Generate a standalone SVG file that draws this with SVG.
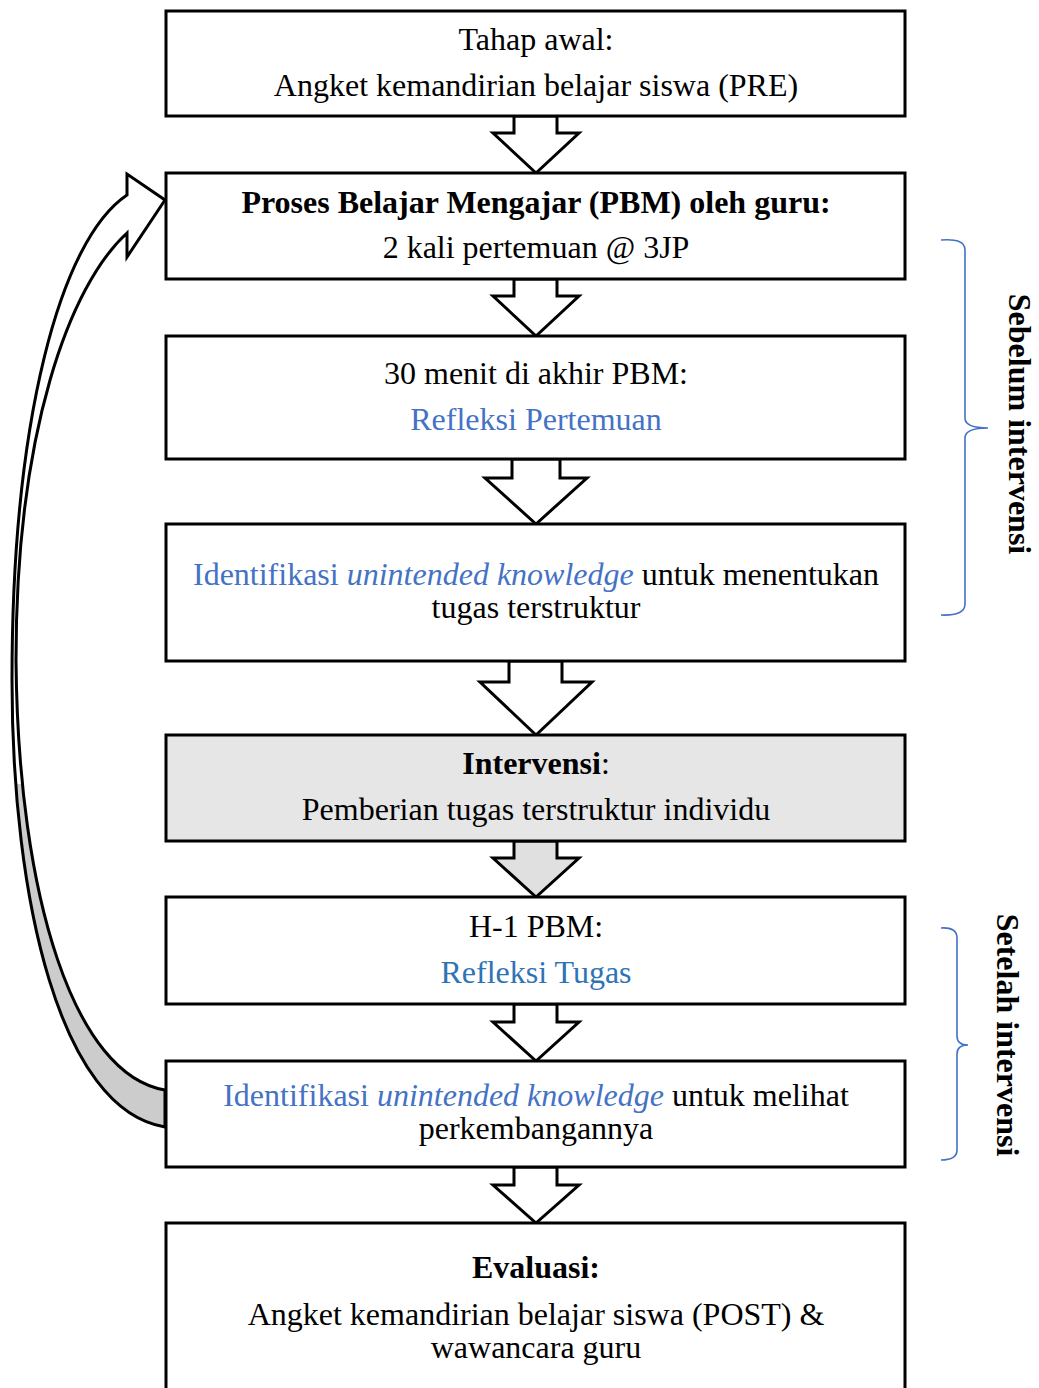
<svg xmlns="http://www.w3.org/2000/svg" width="1039" height="1388" viewBox="0 0 1039 1388">
<style>
.box{fill:#ffffff;stroke:#000;stroke-width:3}
.gbox{fill:#e6e6e6;stroke:#000;stroke-width:3}
.arr{fill:#ffffff;stroke:#000;stroke-width:3;stroke-linejoin:miter}
.garr{fill:#e0e0e0;stroke:#000;stroke-width:3;stroke-linejoin:miter}
.brace{fill:none;stroke:#4472c4;stroke-width:1.6}
text{font-family:"Liberation Serif","Times New Roman",serif;font-size:32px;fill:#000;text-anchor:middle}
.b{font-weight:bold}
.blue{fill:#4472c4}
.blue2{fill:#2e74b5}
.i{font-style:italic}
</style>
<defs>
<linearGradient id="bandFill" gradientUnits="userSpaceOnUse" x1="0" y1="174" x2="0" y2="1127">
<stop offset="0" stop-color="#ffffff"/>
<stop offset="0.64" stop-color="#ffffff"/>
<stop offset="0.64" stop-color="#cccccc"/>
<stop offset="1" stop-color="#cccccc"/>
</linearGradient>
</defs>
<g id="connectors">
<path id="loop" d="M165,1127 C60,1110 12,900 12,680 C12,420 60,240 127,195 L127,174 L165,200 L127,257 L127,233 C70,285 16,430 16,660 C18,900 75,1075 165,1090 Z" fill="url(#bandFill)" stroke="#000" stroke-width="3" stroke-linejoin="miter"/>
<polygon class="arr" points="514,116 514,133 493,133 536,173 579,133 557,133 557,116"/>
<polygon class="arr" points="514,279 514,296 493,296 536,336 579,296 557,296 557,279"/>
<polygon class="arr" points="512,459 512,478 485,478 536,524 587,478 560,478 560,459"/>
<polygon class="arr" points="509,661 509,682 480,682 536,735 592,682 562,682 562,661"/>
<polygon class="garr" points="514,841 514,858 493,858 536,897 579,858 557,858 557,841"/>
<polygon class="arr" points="514,1004 514,1022 493,1022 536,1061 579,1022 557,1022 557,1004"/>
<polygon class="arr" points="514,1167 514,1185 493,1185 536,1223 579,1185 557,1185 557,1167"/>
</g>
<g id="n1">
<rect class="box" x="166" y="11" width="739" height="105"/>
<text x="536" y="50">Tahap awal:</text>
<text x="536" y="96">Angket kemandirian belajar siswa (PRE)</text>
</g>
<g id="n2">
<rect class="box" x="166" y="173" width="739" height="106"/>
<text x="536" y="213" class="b">Proses Belajar Mengajar (PBM) oleh guru:</text>
<text x="536" y="258">2 kali pertemuan @ 3JP</text>
</g>
<g id="n3">
<rect class="box" x="166" y="336" width="739" height="123"/>
<text x="536" y="384">30 menit di akhir PBM:</text>
<text x="536" y="430" class="blue">Refleksi Pertemuan</text>
</g>
<g id="n4">
<rect class="box" x="166" y="524" width="739" height="137"/>
<text x="536" y="585"><tspan class="blue">Identifikasi </tspan><tspan class="blue i">unintended knowledge</tspan> untuk menentukan</text>
<text x="536" y="618">tugas terstruktur</text>
</g>
<g id="n5">
<rect class="gbox" x="166" y="735" width="739" height="106"/>
<text x="536" y="774"><tspan class="b">Intervensi</tspan>:</text>
<text x="536" y="820">Pemberian tugas terstruktur individu</text>
</g>
<g id="n6">
<rect class="box" x="166" y="897" width="739" height="107"/>
<text x="536" y="937">H-1 PBM:</text>
<text x="536" y="983" class="blue2">Refleksi Tugas</text>
</g>
<g id="n7">
<rect class="box" x="166" y="1061" width="739" height="106"/>
<text x="536" y="1106"><tspan class="blue">Identifikasi </tspan><tspan class="blue i">unintended knowledge</tspan> untuk melihat</text>
<text x="536" y="1139">perkembangannya</text>
</g>
<g id="n8">
<rect class="box" x="166" y="1223" width="739" height="220"/>
<text x="536" y="1278" class="b">Evaluasi:</text>
<text x="536" y="1325">Angket kemandirian belajar siswa (POST) &amp;</text>
<text x="536" y="1358">wawancara guru</text>
</g>
<g id="brace-sebelum">
<path class="brace" d="M941,240 Q965,238 965,250 L965,418 Q965,428 988,428 Q965,428 965,438 L965,604 Q965,616 941,615"/>
<text class="b" transform="translate(1009,424) rotate(90)">Sebelum intervensi</text>
</g>
<g id="brace-setelah">
<path class="brace" d="M941,928 Q957,927 957,938 L957,1036 Q957,1045 968,1045 Q957,1045 957,1054 L957,1150 Q957,1160 941,1160"/>
<text class="b" transform="translate(997,1035) rotate(90)">Setelah intervensi</text>
</g>
</svg>
